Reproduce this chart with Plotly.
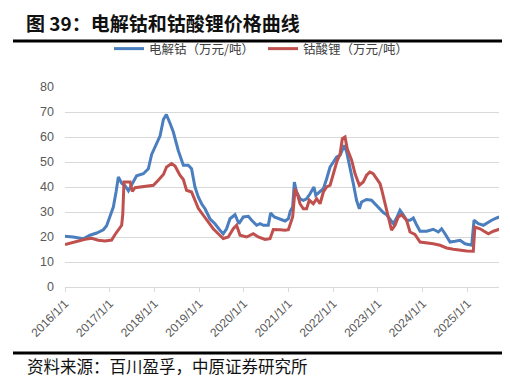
import plotly.graph_objects as go

# 电解钴（万元/吨）
cobalt_dates = [
    "2016-01-01", "2016-03-08", "2016-05-29", "2016-07-23", "2016-09-16", "2016-11-09", "2016-12-06",
    "2017-01-03", "2017-01-30", "2017-02-21", "2017-03-12", "2017-04-08", "2017-05-06", "2017-06-02",
    "2017-06-29", "2017-08-08", "2017-10-02", "2017-11-12", "2017-12-09", "2018-01-19", "2018-02-16",
    "2018-03-15", "2018-04-08", "2018-05-08", "2018-06-04", "2018-07-15", "2018-07-31", "2018-08-25",
    "2018-10-04", "2018-10-31", "2018-11-28", "2018-12-25", "2019-01-21", "2019-02-18", "2019-03-30",
    "2019-05-10", "2019-06-20", "2019-07-17", "2019-08-13", "2019-09-10", "2019-10-21", "2019-11-22",
    "2019-12-28", "2020-02-07", "2020-03-05", "2020-04-15", "2020-05-13", "2020-06-09", "2020-07-19",
    "2020-08-07", "2020-09-06", "2020-10-23", "2020-12-03", "2020-12-30", "2021-01-15", "2021-02-03",
    "2021-02-17", "2021-03-07", "2021-04-04", "2021-05-01", "2021-05-28", "2021-06-25", "2021-07-27",
    "2021-08-11", "2021-09-15", "2021-10-12", "2021-11-08", "2021-12-06", "2022-01-02", "2022-01-29",
    "2022-02-26", "2022-03-16", "2022-04-01", "2022-04-20", "2022-05-18", "2022-06-14", "2022-07-10",
    "2022-08-02", "2022-08-20", "2022-09-30", "2022-11-09", "2022-12-07", "2023-01-12", "2023-02-14",
    "2023-03-13", "2023-04-10", "2023-05-07", "2023-06-02", "2023-06-30", "2023-07-27", "2023-08-23",
    "2023-09-20", "2023-10-17", "2023-11-08", "2023-12-11", "2024-02-03", "2024-03-28", "2024-05-08",
    "2024-06-04", "2024-07-02", "2024-08-12", "2024-09-22", "2024-11-02", "2024-12-13", "2025-02-05",
    "2025-02-24", "2025-03-31", "2025-05-11", "2025-06-21", "2025-07-18", "2025-08-28", "2025-09-19",
]
cobalt_values = [
    20.3, 20.0, 19.3, 20.7, 21.6, 22.9, 24.5,
    28.0, 32.0, 38.0, 44.0, 41.5, 40.5, 38.5,
    41.0, 44.5, 45.3, 47.3, 53.0, 57.3, 60.5,
    67.0, 69.0, 65.5, 62.0, 54.5, 52.0, 48.7,
    48.7, 47.3, 40.0, 36.0, 33.3, 31.3, 27.3,
    25.3, 22.7, 21.3, 23.3, 27.3, 28.9, 25.3,
    28.0, 28.3, 26.7, 24.7, 25.3, 24.7, 24.7,
    29.6, 28.0, 27.3, 26.4, 27.3, 30.4, 32.0,
    42.0, 38.0, 35.3, 34.7, 35.3, 37.3, 40.0,
    36.7, 38.0, 39.3, 43.3, 48.0, 50.0, 52.0,
    52.7, 55.3, 56.7, 54.0, 48.0, 41.3, 34.7,
    31.3, 34.0, 35.0, 34.7, 33.3, 31.3, 29.8,
    28.9, 27.3, 25.3, 27.6, 30.7, 28.9, 26.7,
    26.7, 27.6, 25.3, 22.3, 22.3, 23.1, 22.0,
    23.3, 21.3, 18.0, 18.3, 18.7, 17.3, 16.7,
    26.7, 25.3, 24.7, 26.0, 26.7, 27.6, 28.0,
]

# 钴酸锂（万元/吨）
lco_dates = [
    "2016-01-01", "2016-02-23", "2016-04-18", "2016-06-13", "2016-08-06", "2016-09-29", "2016-11-23",
    "2017-01-16", "2017-02-13", "2017-03-12", "2017-04-08", "2017-04-17", "2017-04-27", "2017-06-16",
    "2017-07-04", "2017-07-26", "2017-09-18", "2017-10-29", "2017-12-23", "2018-02-01", "2018-03-15",
    "2018-04-10", "2018-05-21", "2018-06-18", "2018-07-28", "2018-08-25", "2018-09-20", "2018-10-31",
    "2018-11-28", "2018-12-25", "2019-02-04", "2019-03-16", "2019-04-26", "2019-06-06", "2019-07-17",
    "2019-08-27", "2019-10-07", "2019-11-03", "2019-12-01", "2020-01-24", "2020-03-18", "2020-04-28",
    "2020-06-22", "2020-08-02", "2020-08-29", "2020-10-23", "2020-12-03", "2020-12-30", "2021-01-13",
    "2021-02-03", "2021-02-23", "2021-03-13", "2021-04-04", "2021-05-01", "2021-05-28", "2021-06-19",
    "2021-07-22", "2021-08-18", "2021-09-15", "2021-10-12", "2021-11-08", "2021-12-06", "2022-01-02",
    "2022-01-29", "2022-02-26", "2022-03-16", "2022-04-07", "2022-04-25", "2022-05-31", "2022-06-28",
    "2022-08-02", "2022-09-03", "2022-09-30", "2022-10-27", "2022-11-23", "2022-12-20", "2023-01-18",
    "2023-01-31", "2023-03-13", "2023-04-22", "2023-05-20", "2023-06-16", "2023-07-13", "2023-08-23",
    "2023-09-20", "2023-10-30", "2023-12-11", "2024-02-03", "2024-03-28", "2024-05-22", "2024-07-15",
    "2024-09-08", "2024-11-02", "2024-12-26", "2025-02-18", "2025-03-03", "2025-04-14", "2025-05-25",
    "2025-06-21", "2025-08-01", "2025-09-19",
]
lco_values = [
    17.0, 17.7, 18.5, 19.1, 19.5, 18.7, 18.4,
    18.8, 21.0, 23.0, 24.7, 29.0, 42.0, 42.0,
    38.2, 39.7, 40.0, 40.4, 40.7, 42.7, 45.0,
    48.0, 49.4, 48.4, 44.7, 43.0, 38.7, 38.0,
    34.7, 31.5, 28.7, 26.0, 23.3, 21.3, 19.4,
    20.0, 23.3, 24.7, 20.7, 20.0, 21.3, 20.0,
    19.0, 19.3, 23.0, 22.9, 22.7, 22.9, 25.3,
    28.0, 39.3, 37.3, 33.3, 31.3, 31.3, 34.7,
    33.3, 35.3, 33.3, 38.0, 40.0, 40.7, 45.3,
    50.0, 53.3, 59.3, 60.0, 55.3, 50.7, 45.3,
    40.7, 42.0, 44.7, 46.0, 45.3, 43.3, 41.3,
    39.0, 31.3, 22.7, 24.7, 28.0, 28.9, 26.7,
    22.0, 21.0, 18.0, 17.7, 17.3, 16.7, 15.6,
    15.1, 14.7, 14.4, 14.3, 24.0, 23.3, 22.0,
    21.3, 22.3, 23.1,
]

tick_dates = ["2016-01-01", "2017-01-01", "2018-01-01", "2019-01-01", "2020-01-01",
              "2021-01-01", "2022-01-01", "2023-01-01", "2024-01-01", "2025-01-01"]
tick_labels = ["2016/1/1", "2017/1/1", "2018/1/1", "2019/1/1", "2020/1/1",
               "2021/1/1", "2022/1/1", "2023/1/1", "2024/1/1", "2025/1/1"]
y_ticks = [0, 10, 20, 30, 40, 50, 60, 70, 80]

series_names = ["电解钴（万元/吨）", "钴酸锂（万元/吨）"]
BLUE = "#4A7EBF"
RED = "#C0504D"
CJK = "Noto Sans CJK SC"

fig = go.Figure()
fig.add_trace(go.Scatter(x=cobalt_dates, y=cobalt_values, mode="lines", name=series_names[0],
                         line=dict(color=BLUE, width=3)))
fig.add_trace(go.Scatter(x=lco_dates, y=lco_values, mode="lines", name=series_names[1],
                         line=dict(color=RED, width=3)))

fig.update_layout(
    width=510, height=378,
    margin=dict(l=57, r=19, t=79, b=99),
    paper_bgcolor="white", plot_bgcolor="white",
    font=dict(family=CJK, color="#595959", size=11),
    showlegend=True,
    legend=dict(orientation="h", x=(101 - 57) / 434, xanchor="left", y=1.19, yanchor="middle",
                font=dict(family=CJK, size=12.5, color="#404040"),
                entrywidth=109, entrywidthmode="pixels",
                bgcolor="rgba(0,0,0,0)"),
    title=dict(text="<b>图 39：电解钴和钴酸锂价格曲线</b>", x=18 / 510, xanchor="left",
               xref="container", y=1 - 16 / 378, yanchor="middle", yref="container",
               font=dict(family=CJK, size=19, color="#111111")),
    xaxis=dict(type="date", range=["2016-01-01", "2025-09-16"],
               tickvals=tick_dates, ticktext=tick_labels, tickangle=-45,
               showgrid=False, showline=True, linecolor="#d9d9d9", linewidth=1,
               ticks="outside", ticklen=4, tickcolor="#d9d9d9",
               tickfont=dict(family="Liberation Sans", size=12, color="#595959")),
    yaxis=dict(range=[0, 80], tickvals=y_ticks, showgrid=True, gridcolor="#d9d9d9", gridwidth=1,
               zeroline=False, showline=False, ticks="", ticklabelstandoff=10,
               tickfont=dict(family="Liberation Sans", size=12.5, color="#595959")),
    shapes=[
        dict(type="line", xref="paper", yref="paper", x0=(5 - 57) / 434, x1=(505 - 57) / 434,
             y0=(279 - 33) / 200, y1=(279 - 33) / 200, line=dict(color="#000000", width=3)),
        dict(type="line", xref="paper", yref="paper", x0=(5 - 57) / 434, x1=(505 - 57) / 434,
             y0=(279 - 345) / 200, y1=(279 - 345) / 200, line=dict(color="#000000", width=3)),
    ],
    annotations=[
        dict(text="资料来源：百川盈孚，中原证券研究所", xref="paper", yref="paper",
             x=(17 - 57) / 434, y=(279 - 358) / 200, xanchor="left", yanchor="middle",
             showarrow=False, font=dict(family=CJK, size=16.5, color="#111111")),
    ],
)

fig.write_html("out.html")
